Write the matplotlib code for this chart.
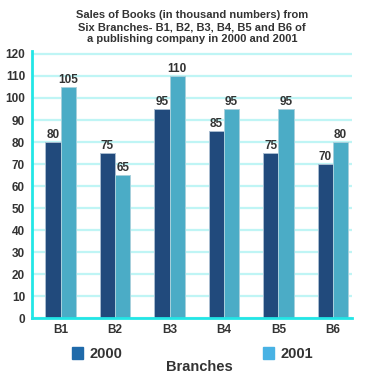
import matplotlib
matplotlib.use("Agg")
import matplotlib.pyplot as plt
import numpy as np
from matplotlib.patches import Patch

# datos
branches = ["B1", "B2", "B3", "B4", "B5", "B6"]
sales_2000 = [80, 75, 95, 85, 75, 70]
sales_2001 = [105, 65, 110, 95, 95, 80]
years = ["2000", "2001"]

plt.rcParams['font.family'] = ['Liberation Sans', 'DejaVu Sans']
txt = '#333333'

fig = plt.figure(figsize=(3.67, 3.80), dpi=100)
ax = fig.add_axes([32/367, 1-318.3/380, 320/367, 267.7/380])

x = np.arange(len(branches))
w = 0.28
b1 = ax.bar(x - w/2, sales_2000, w, color='#214a7c', edgecolor='#a8bcd0', linewidth=0.7, zorder=3)
b2 = ax.bar(x + w/2, sales_2001, w, color='#4bacc6', edgecolor='#a8d0dc', linewidth=0.7, zorder=3)
ax.bar_label(b1, padding=1, fontsize=8.5, fontweight='bold', color=txt)
ax.bar_label(b2, padding=1, fontsize=8.5, fontweight='bold', color=txt)

ax.set_xlim(-0.525, 5.35)
ax.set_ylim(0, 121.5)
ax.set_yticks(range(0, 121, 10))
ax.set_xticks(x)
ax.set_xticklabels(branches)
ax.tick_params(length=0, labelsize=8.5, labelcolor=txt)
ax.tick_params(axis='y', pad=5)
ax.tick_params(axis='x', pad=4)
for lab in ax.get_xticklabels() + ax.get_yticklabels():
    lab.set_fontweight('bold')

ax.grid(axis='y', color='#bff5f5', linewidth=1.6, zorder=0)
ax.set_axisbelow(True)
for s in ['top', 'right']:
    ax.spines[s].set_visible(False)
for s in ['left', 'bottom']:
    ax.spines[s].set_color('#22e6e6')
    ax.spines[s].set_linewidth(2)
    ax.spines[s].set_zorder(4)

fig.text(192/367, 1-27/380, "Sales of Books (in thousand numbers) from\nSix Branches- B1, B2, B3, B4, B5 and B6 of\na publishing company in 2000 and 2001",
         ha='center', va='center', fontsize=8, fontweight='bold', color=txt, linespacing=1.3)

handles = [Patch(color='#1f6aaa'), Patch(color='#48b2e4')]
fig.legend(handles, years, loc='center', bbox_to_anchor=(192.5/367, 1-354/380), ncol=2,
           frameon=False, prop={'size': 10.5, 'weight': 'bold'}, labelcolor=txt,
           handlelength=0.8, handleheight=0.8, handletextpad=0.45, columnspacing=9.6)

fig.text(199/367, 1-367/380, "Branches", ha='center', va='center', fontsize=10.5, fontweight='bold', color=txt)

plt.savefig("out.png", dpi=100)
